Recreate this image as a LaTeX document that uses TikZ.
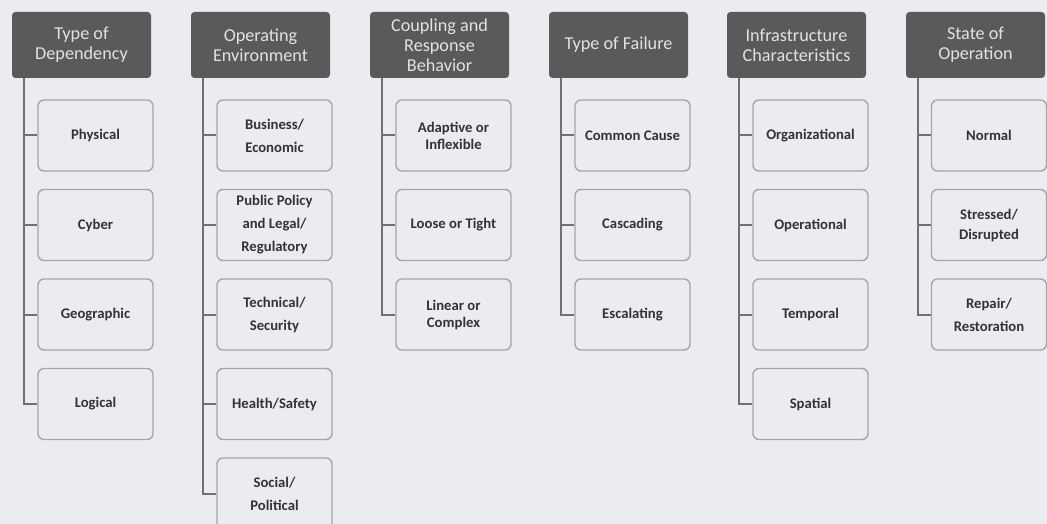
\documentclass[tikz,border=0pt]{standalone}
\usepackage{fontspec}
\setmainfont{Carlito}
\definecolor{bgcol}{HTML}{EBECF2}
\definecolor{hdcol}{HTML}{5A5A5A}
\definecolor{hdtext}{HTML}{E2E2E2}
\definecolor{bxline}{HTML}{A6A6A6}
\definecolor{bxtext}{HTML}{333333}
\definecolor{lncol}{HTML}{707070}
\tikzset{
  header/.style={rectangle, rounded corners=3.5pt, fill=hdcol, draw=none,
    minimum width=139pt, minimum height=66pt, inner sep=2pt, align=center,
    text=hdtext, font=\fontsize{18.2}{20}\selectfont},
  childbox/.style={rectangle, rounded corners=6pt, fill=bgcol, draw=bxline,
    line width=1.4pt, minimum width=115pt, minimum height=71pt, inner sep=2pt,
    align=center, text=bxtext, font=\bfseries\fontsize{14.7}{17}\selectfont},
  loose/.style={font=\bfseries\fontsize{14.7}{23}\selectfont},
  mid/.style={font=\bfseries\fontsize{14.7}{20}\selectfont},
  conn/.style={draw=lncol, line width=2pt},
}
\begin{document}
\begin{tikzpicture}[x=1pt,y=-1pt]
\useasboundingbox (0,0) rectangle (1047,524);
\clip (0,0) rectangle (1047,524);
\fill[bgcol] (0,0) rectangle (1047,524);

% headers
\node[header] (h1) at (81.5,45) {Type of\\Dependency};
\node[header] (h2) at (260.5,45) {Operating\\Environment};
\node[header] (h3) at (439.5,45) {Coupling and\\Response\\Behavior};
\node[header] (h4) at (618.5,45) {Type of Failure};
\node[header] (h5) at (796.5,45) {Infrastructure\\Characteristics};
\node[header] (h6) at (975.5,45) {State of\\Operation};

% trunk starts
\coordinate (t1) at (24,78);
\coordinate (t2) at (203,78);
\coordinate (t3) at (382,78);
\coordinate (t4) at (561,78);
\coordinate (t5) at (739,78);
\coordinate (t6) at (918,78);

% column 1
\node[childbox] (c11) at (95.5,135.5) {Physical};
\node[childbox] (c12) at (95.5,225) {Cyber};
\node[childbox] (c13) at (95.5,314.5) {Geographic};
\node[childbox] (c14) at (95.5,404) {Logical};

% column 2
\node[childbox,loose] (c21) at (274.5,135.5) {Business/\\Economic};
\node[childbox,loose] (c22) at (274.5,225) {Public Policy\\and Legal/\\Regulatory};
\node[childbox,loose] (c23) at (274.5,314.5) {Technical/\\Security};
\node[childbox] (c24) at (274.5,404) {Health/Safety};
\node[childbox,loose] (c25) at (274.5,493.5) {Social/\\Political};

% column 3
\node[childbox] (c31) at (453.5,135.5) {Adaptive or\\Inflexible};
\node[childbox] (c32) at (453.5,225) {Loose or Tight};
\node[childbox] (c33) at (453.5,314.5) {Linear or\\Complex};

% column 4
\node[childbox] (c41) at (632.5,135.5) {Common Cause};
\node[childbox] (c42) at (632.5,225) {Cascading};
\node[childbox] (c43) at (632.5,314.5) {Escalating};

% column 5
\node[childbox] (c51) at (810.5,135.5) {Organizational};
\node[childbox] (c52) at (810.5,225) {Operational};
\node[childbox] (c53) at (810.5,314.5) {Temporal};
\node[childbox] (c54) at (810.5,404) {Spatial};

% column 6
\node[childbox] (c61) at (989,135.5) {Normal};
\node[childbox,mid] (c62) at (989,225) {Stressed/\\Disrupted};
\node[childbox,loose] (c63) at (989,314.5) {Repair/\\Restoration};

% connectors
\draw[conn] (t1) |- (c14.west);
\foreach \k in {1,2,3} \draw[conn] (t1 |- c1\k.west) -- (c1\k.west);
\draw[conn] (t2) |- (c25.west);
\foreach \k in {1,2,3,4} \draw[conn] (t2 |- c2\k.west) -- (c2\k.west);
\draw[conn] (t3) |- (c33.west);
\foreach \k in {1,2} \draw[conn] (t3 |- c3\k.west) -- (c3\k.west);
\draw[conn] (t4) |- (c43.west);
\foreach \k in {1,2} \draw[conn] (t4 |- c4\k.west) -- (c4\k.west);
\draw[conn] (t5) |- (c54.west);
\foreach \k in {1,2,3} \draw[conn] (t5 |- c5\k.west) -- (c5\k.west);
\draw[conn] (t6) |- (c63.west);
\foreach \k in {1,2} \draw[conn] (t6 |- c6\k.west) -- (c6\k.west);
\end{tikzpicture}
\end{document}
